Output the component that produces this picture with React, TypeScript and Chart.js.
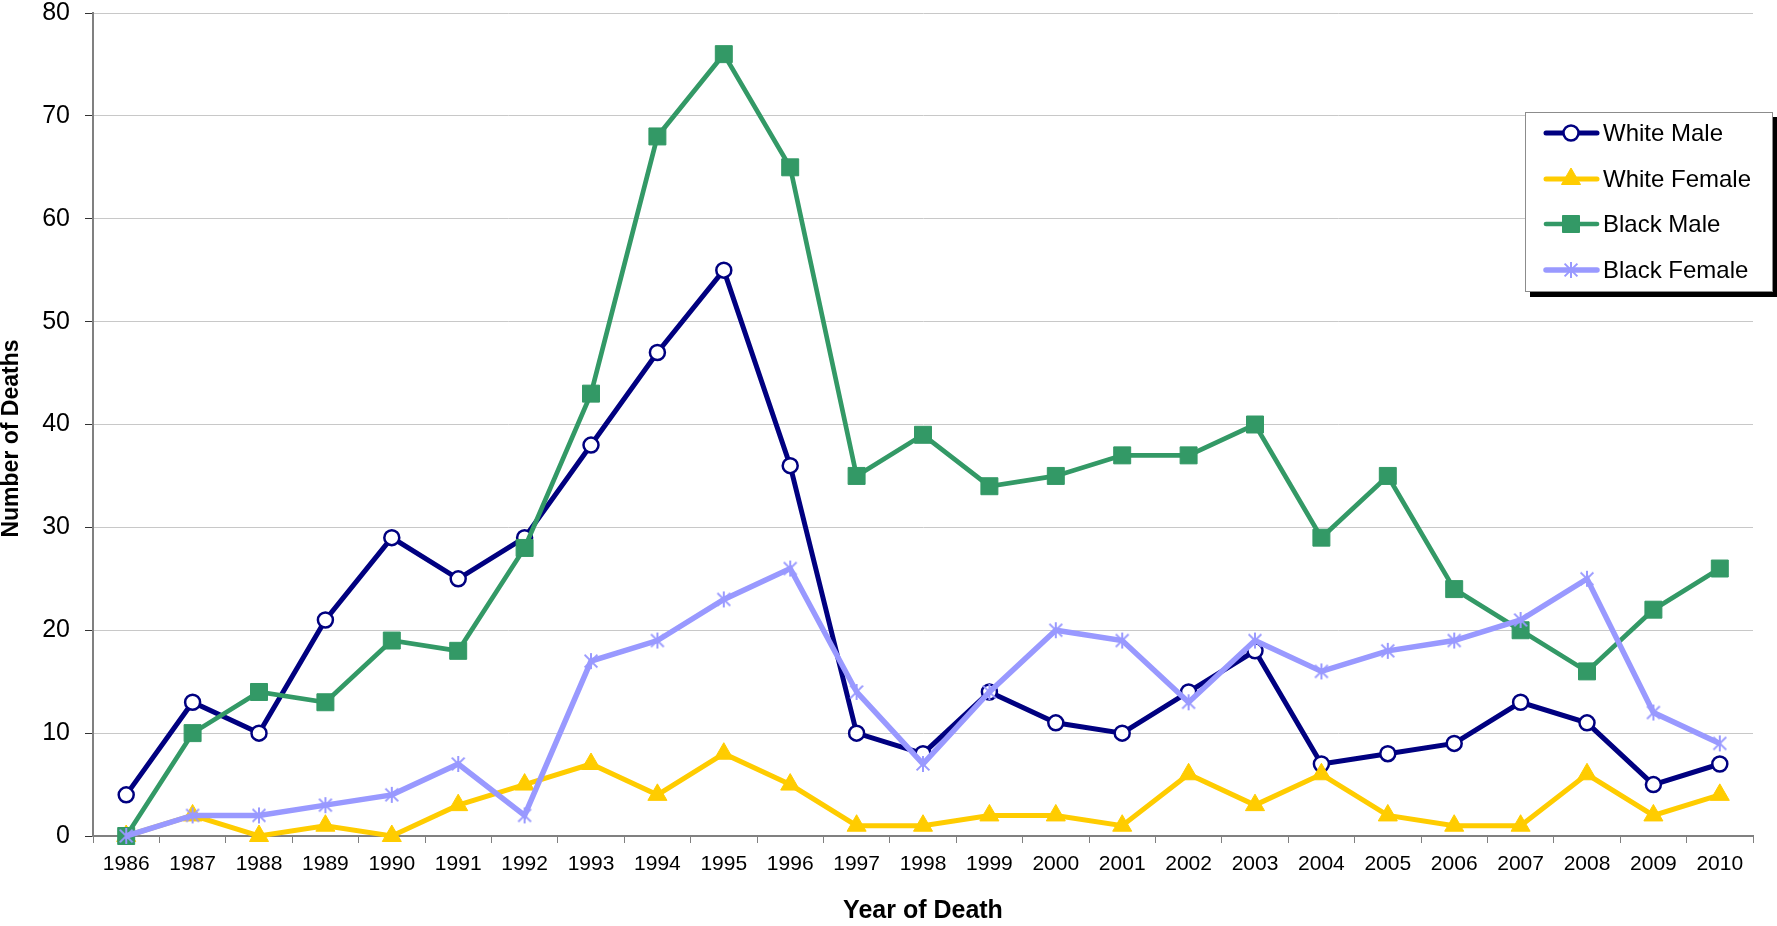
import React, { useEffect, useRef } from "react";
import { Chart, registerables } from "chart.js";
import { drawPoint } from "chart.js/helpers";

Chart.register(...registerables);

const years = ["1986","1987","1988","1989","1990","1991","1992","1993","1994","1995","1996","1997","1998","1999","2000","2001","2002","2003","2004","2005","2006","2007","2008","2009","2010"];
const whiteMale = [4,13,10,21,29,25,29,38,47,55,36,10,8,14,11,10,14,18,7,8,9,13,11,5,7];
const whiteFemale = [0,2,0,1,0,3,5,7,4,8,5,1,1,2,2,1,6,3,6,2,1,1,6,2,4];
const blackMale = [0,10,14,13,19,18,28,43,68,76,65,35,39,34,35,37,37,40,29,35,24,20,16,22,26];
const blackFemale = [0,2,2,3,4,7,2,17,19,23,26,14,7,14,20,19,13,19,16,18,19,21,25,12,9];
const yTicks = [0,10,20,30,40,50,60,70,80];
const yTitle = "Number of Deaths";
const xTitle = "Year of Death";

const FONT = "'Liberation Sans', Arial, sans-serif";

function makeStar(color: string): HTMLCanvasElement {
  const c = document.createElement("canvas");
  const s = 18;
  c.width = s;
  c.height = s;
  const g = c.getContext("2d")!;
  g.strokeStyle = color;
  g.lineWidth = 2;
  g.lineCap = "butt";
  const m = s / 2;
  const r = 8;
  g.beginPath();
  g.moveTo(m, m - r);
  g.lineTo(m, m + r);
  const d = r * 0.8;
  g.moveTo(m - d, m - d);
  g.lineTo(m + d, m + d);
  g.moveTo(m + d, m - d);
  g.lineTo(m - d, m + d);
  g.stroke();
  return c;
}

const yTitlePlugin = {
  id: "yTitle",
  afterDraw(chart: any) {
    const ctx = chart.ctx;
    ctx.save();
    ctx.translate(18, 438.5);
    ctx.rotate(-Math.PI / 2);
    ctx.fillStyle = "#000";
    ctx.font = `bold 23px ${FONT}`;
    ctx.textAlign = "center";
    ctx.textBaseline = "alphabetic";
    ctx.fillText(yTitle, 0, 0);
    ctx.restore();
  },
};

const legendPlugin = {
  id: "boxLegend",
  afterDraw(chart: any) {
    const ctx = chart.ctx;
    const x0 = 1525, y0 = 112, w = 248, h = 180;
    ctx.save();
    ctx.fillStyle = "#000";
    ctx.fillRect(x0 + 5, y0 + 5, w, h);
    ctx.fillStyle = "#fff";
    ctx.fillRect(x0, y0, w, h);
    ctx.strokeStyle = "#8c8c8c";
    ctx.lineWidth = 1;
    ctx.strokeRect(x0 + 0.5, y0 + 0.5, w - 1, h - 1);
    const rows = [133, 179, 224, 270];
    chart.data.datasets.forEach((ds: any, i: number) => {
      const y = rows[i];
      ctx.strokeStyle = ds.borderColor;
      ctx.lineWidth = ds.borderWidth;
      ctx.lineCap = "round";
      ctx.beginPath();
      ctx.moveTo(1546, y);
      ctx.lineTo(1597, y);
      ctx.stroke();
      ctx.lineCap = "butt";
      ctx.fillStyle = ds.pointBackgroundColor;
      ctx.strokeStyle = ds.pointBorderColor;
      ctx.lineWidth = ds.pointBorderWidth;
      drawPoint(ctx, { pointStyle: ds.pointStyle, radius: ds.pointRadius, rotation: 0, borderWidth: ds.pointBorderWidth }, 1571, y);
      ctx.fillStyle = "#000";
      ctx.font = `24px ${FONT}`;
      ctx.textAlign = "left";
      ctx.textBaseline = "middle";
      ctx.fillText(ds.label, 1603, y + 1);
    });
    ctx.restore();
  },
};

export default function App() {
  const ref = useRef<HTMLCanvasElement | null>(null);
  useEffect(() => {
    if (!ref.current) return;
    const star = makeStar("#9999FF");
    const chart = new Chart(ref.current, {
      type: "line",
      data: {
        labels: years,
        datasets: [
          {
            label: "White Male",
            data: whiteMale,
            borderColor: "#000080",
            borderWidth: 5,
            pointStyle: "circle",
            pointRadius: 7.5,
            pointBorderWidth: 2.5,
            pointBackgroundColor: "#ffffff",
            pointBorderColor: "#000080",
            order: 4,
          },
          {
            label: "White Female",
            data: whiteFemale,
            borderColor: "#FFCC00",
            borderWidth: 5,
            pointStyle: "triangle",
            pointRadius: 11,
            pointBorderWidth: 1,
            pointBackgroundColor: "#FFCC00",
            pointBorderColor: "#FFCC00",
            order: 3,
          },
          {
            label: "Black Male",
            data: blackMale,
            borderColor: "#339966",
            borderWidth: 4.7,
            pointStyle: "rect",
            pointRadius: 12,
            pointBorderWidth: 1,
            pointBackgroundColor: "#339966",
            pointBorderColor: "#339966",
            order: 2,
          },
          {
            label: "Black Female",
            data: blackFemale,
            borderColor: "#9999FF",
            borderWidth: 5.5,
            pointStyle: star,
            pointRadius: 9,
            pointBorderWidth: 0,
            pointBackgroundColor: "#9999FF",
            pointBorderColor: "#9999FF",
            order: 1,
          },
        ] as any,
      },
      options: {
        animation: false,
        responsive: true,
        maintainAspectRatio: false,
        layout: { padding: { top: 0, right: 24, left: 0, bottom: 0 } },
        elements: { line: { tension: 0 } },
        datasets: { line: { clip: false as any } },
        plugins: {
          legend: { display: false },
          tooltip: { enabled: false },
        },
        scales: {
          x: {
            type: "category",
            offset: true,
            grid: {
              display: true,
              drawOnChartArea: false,
              drawTicks: true,
              tickLength: 7,
              color: "#808080",
              offset: true,
            },
            border: { display: true, color: "#808080", width: 2 },
            ticks: {
              color: "#000",
              font: { family: FONT, size: 21 },
              padding: 9,
              maxRotation: 0,
              autoSkip: false,
            },
            title: {
              display: true,
              text: xTitle,
              color: "#000",
              font: { family: FONT, size: 25, weight: "bold" },
              padding: { top: 0, bottom: 0 },
            },
            afterFit: (s: any) => {
              s.height = 90;
            },
          },
          y: {
            min: 0,
            max: 80,
            afterBuildTicks: (s: any) => {
              s.ticks = yTicks.map((v) => ({ value: v }));
            },
            grid: {
              color: "#c8c8c8",
              lineWidth: 1,
              tickLength: 8,
              tickColor: "#333",
              drawTicks: true,
            },
            border: { display: true, color: "#808080", width: 2 },
            ticks: {
              color: "#000",
              font: { family: FONT, size: 25 },
              padding: 15,
            },
            title: { display: false },
            afterFit: (s: any) => {
              s.width = 93;
              s.paddingTop = 11;
              s.paddingBottom = 0;
            },
          },
        },
      },
      plugins: [legendPlugin, yTitlePlugin],
    });
    return () => chart.destroy();
  }, []);
  return (
    <div style={{ position: "absolute", left: 0, top: 0, width: 1777, height: 926, background: "#fff" }}>
      <canvas ref={ref} />
    </div>
  );
}
